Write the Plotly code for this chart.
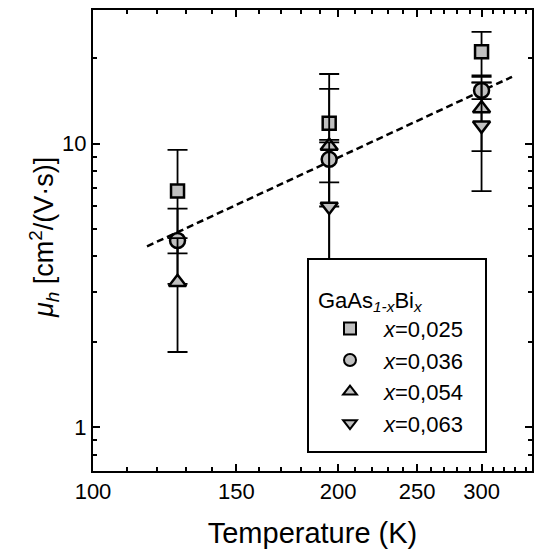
import math
import plotly.graph_objects as go

# ---------------- data ----------------
temperature = [127, 195, 300]
temperature_063 = [195, 300]

mu_x025 = [6.8, 11.8, 21.1]
err_x025 = [2.7, 5.8, 3.7]

mu_x036 = [4.55, 8.8, 15.4]
err_x036 = [1.35, 1.5, 1.05]

mu_x054 = [3.24, 9.8, 13.3]
err_x054_plus = [1.4, 5.8, 3.9]
err_x054_minus = [1.4, 6.0, 3.9]

mu_x063 = [6.0, 11.6]
err_x063 = [4.1, 4.8]

fit_T = [116.5, 327]
fit_mu = [4.34, 17.2]

x_ticks = [100, 150, 200, 250, 300]
x_minor = [110, 120, 130, 140, 160, 170, 180, 190, 210, 220, 230, 240,
           260, 270, 280, 290, 310, 320, 330, 340]
y_ticks = [1, 10]
y_minor = [0.8, 0.9, 2, 3, 4, 5, 6, 7, 8, 9, 20]

labels = ["<i>x</i>=0,025", "<i>x</i>=0,036", "<i>x</i>=0,054", "<i>x</i>=0,063"]
legend_title = "GaAs<sub><i>1-x</i></sub>Bi<sub><i>x</i></sub>"
x_title = "Temperature (K)"
y_title = "<i>μ<sub>h</sub></i> [cm<sup>2</sup>/(V·s)]"

# ---------------- style ----------------
FONT = "Liberation Sans, Arial, sans-serif"
GREY = "#c0c0c0"
MLINE = dict(color="black", width=2.5)

def ebar(arr, arrm=None):
    d = dict(type="data", array=arr, visible=True, color="black",
             thickness=1.8, width=10)
    if arrm is not None:
        d["symmetric"] = False
        d["arrayminus"] = arrm
    return d

fig = go.Figure()

fig.add_trace(go.Scatter(x=fit_T, y=fit_mu, mode="lines",
                         line=dict(color="black", width=2.5, dash="7px,4px"),
                         showlegend=False, hoverinfo="skip"))

fig.add_trace(go.Scatter(x=temperature, y=mu_x025, mode="markers", name=labels[0],
                         marker=dict(symbol="square", size=13, color=GREY, line=MLINE),
                         error_y=ebar(err_x025)))
fig.add_trace(go.Scatter(x=temperature, y=mu_x036, mode="markers", name=labels[1],
                         marker=dict(symbol="circle", size=15, color=GREY, line=MLINE),
                         error_y=ebar(err_x036)))
fig.add_trace(go.Scatter(x=temperature, y=mu_x054, mode="markers", name=labels[2],
                         marker=dict(symbol="triangle-up", size=15, color=GREY, line=MLINE),
                         error_y=ebar(err_x054_plus, err_x054_minus)))
fig.add_trace(go.Scatter(x=temperature_063, y=mu_x063, mode="markers", name=labels[3],
                         marker=dict(symbol="triangle-down", size=15, color=GREY, line=MLINE),
                         error_y=ebar(err_x063)))

L, R, T, B = 93, 4, 10, 80
W, H = 536, 551
pw, ph = W - L - R, H - T - B

def px_x(p):
    return (p - L) / pw

def px_y(p):
    return (H - B - p) / ph

axis_common = dict(
    type="log", showgrid=False, zeroline=False,
    showline=True, linecolor="black", linewidth=2, mirror="allticks",
    ticks="inside", ticklen=7, tickwidth=2, tickcolor="black",
    tickfont=dict(family=FONT, size=22, color="black"),
)

fig.update_xaxes(**axis_common,
                 range=[2, math.log10(346)],
                 tickmode="array", tickvals=x_ticks, ticktext=[str(v) for v in x_ticks],
                 minor=dict(tickmode="array", tickvals=x_minor, ticks="inside",
                            ticklen=4, tickwidth=1.5, tickcolor="black"),
                 title=dict(text=x_title, font=dict(family=FONT, size=29, color="black"),
                            standoff=19))
fig.update_yaxes(**axis_common,
                 range=[math.log10(0.70), math.log10(29.6)],
                 tickmode="array", tickvals=y_ticks, ticktext=[str(v) for v in y_ticks],
                 minor=dict(tickmode="array", tickvals=y_minor, ticks="inside",
                            ticklen=4, tickwidth=1.5, tickcolor="black"))

# y-axis title as a rotated annotation (placed like the reference)
fig.add_annotation(text=y_title, xref="paper", yref="paper",
                   x=px_x(44), y=px_y(238), xanchor="center", yanchor="middle",
                   textangle=-90, showarrow=False,
                   font=dict(family=FONT, size=27, color="black"))

# legend frame
fig.add_shape(type="rect", xref="paper", yref="paper",
              x0=px_x(308), x1=px_x(486), y0=px_y(452), y1=px_y(259),
              fillcolor="white", line=dict(color="black", width=2), layer="above")

fig.update_layout(
    width=W, height=H,
    margin=dict(l=L, r=R, t=T, b=B, autoexpand=False),
    paper_bgcolor="white", plot_bgcolor="white",
    font=dict(family=FONT, color="black"),
    legend=dict(
        x=px_x(316), y=px_y(279), xanchor="left", yanchor="top",
        bgcolor="rgba(0,0,0,0)", borderwidth=0,
        font=dict(family=FONT, size=22, color="black"),
        title=dict(text=legend_title, font=dict(family=FONT, size=22, color="black")),
        itemsizing="constant", itemwidth=58,
    ),
)

fig.write_html("out.html")
